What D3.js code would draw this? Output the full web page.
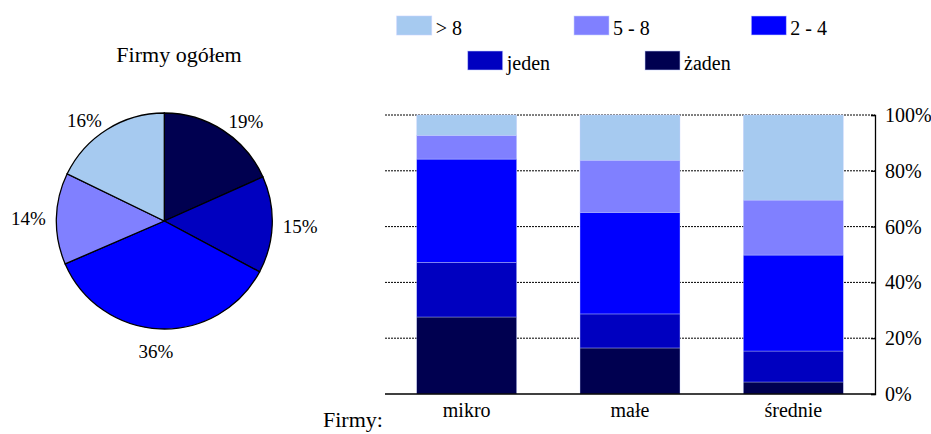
<!DOCTYPE html>
<html><head><meta charset="utf-8">
<script src="https://cdn.jsdelivr.net/npm/d3@7"></script>
<style>body{margin:0;background:#fff}</style>
</head><body>
<svg id="c" width="931" height="434" font-family="'Liberation Serif', 'DejaVu Serif', serif"></svg>
<script>
// ---- data ----
const seriesNames = ["> 8", "5 - 8", "2 - 4", "jeden", "żaden"];
const seriesColors = ["#A6CAF0", "#8080FF", "#0000FF", "#0000C0", "#000050"];
const categories = ["mikro", "małe", "średnie"];
const gt8 = [7.3, 16.2, 30.5];
const s5to8 = [8.5, 18.7, 19.7];
const s2to4 = [37.0, 36.4, 34.4];
const jeden = [19.6, 12.2, 11.1];
const zaden = [27.6, 16.5, 4.3];
const yTicks = [0, 20, 40, 60, 80, 100];
const pieNames = ["żaden", "jeden", "2 - 4", "5 - 8", "> 8"];
const pieValues = [18.3, 14.5, 35.7, 13.7, 17.8];
const pieLabels = ["19%", "15%", "36%", "14%", "16%"];
const pieTitle = "Firmy ogółem";
const xTitle = "Firmy:";

const FONT = "'Liberation Serif', 'DejaVu Serif', serif";
const svg = d3.select("#c");
const color = d3.scaleOrdinal().domain(seriesNames).range(seriesColors);

// ---- pie ----
const cx = 164.3, cy = 221, R = 108;
svg.append("text").attr("x", 179).attr("y", 62).attr("text-anchor", "middle")
  .attr("font-family", FONT).attr("font-size", 22).text(pieTitle);
const pieData = d3.pie().sort(null).value(d => d.v)(pieNames.map((n, i) => ({n, v: pieValues[i], l: pieLabels[i]})));
const arc = d3.arc().innerRadius(0).outerRadius(R);
const pg = svg.append("g").attr("transform", `translate(${cx},${cy})`);
pg.selectAll("path").data(pieData).join("path")
  .attr("d", arc).attr("fill", d => color(d.data.n))
  .attr("stroke", "#000").attr("stroke-width", 1.3);
const labR = R + 11, halfW = 17, boxH = 11;
pg.selectAll("text").data(pieData).join("text")
  .attr("font-family", FONT).attr("font-size", 19).attr("text-anchor", "middle")
  .attr("x", d => { const a = (d.startAngle + d.endAngle) / 2; return Math.sin(a) * labR + halfW * Math.tanh(5 * Math.sin(a)); })
  .attr("y", d => { const a = (d.startAngle + d.endAngle) / 2; return -Math.cos(a) * labR + Math.max(0, -Math.cos(a)) * boxH + 7; })
  .text(d => d.data.l);

// ---- bar chart ----
const x0 = 385, x1 = 875, yTop = 115, yBot = 394;
const x = d3.scaleBand().domain(categories).range([x0, x1]).paddingInner(0.388).paddingOuter(0.194);
const y = d3.scaleLinear().domain([0, 100]).range([yBot, yTop]);

// gridlines
svg.append("g").selectAll("line").data(yTicks.filter(t => t > 0)).join("line")
  .attr("x1", x0).attr("x2", x1).attr("y1", d => y(d)).attr("y2", d => y(d))
  .attr("stroke", "#000").attr("stroke-width", 1).attr("stroke-dasharray", "2,1");

const rows = categories.map((c, i) => ({cat: c, "> 8": gt8[i], "5 - 8": s5to8[i], "2 - 4": s2to4[i], "jeden": jeden[i], "żaden": zaden[i]}));
const stackOrder = ["żaden", "jeden", "2 - 4", "5 - 8", "> 8"];
const stacked = d3.stack().keys(stackOrder)(rows);
svg.append("g").selectAll("g").data(stacked).join("g")
  .attr("fill", d => color(d.key))
  .selectAll("rect").data(d => d).join("rect")
  .attr("x", d => x(d.data.cat)).attr("width", x.bandwidth())
  .attr("y", d => y(d[1])).attr("height", d => y(d[0]) - y(d[1]))
  .attr("stroke", "rgba(200,210,255,0.6)").attr("stroke-width", 0.6);

// right axis
const ax = svg.append("g").attr("transform", `translate(${x1},0)`)
  .call(d3.axisRight(y).tickValues(yTicks).tickSize(-4).tickPadding(10).tickFormat(d => d + "%"));
ax.attr("font-family", FONT).attr("font-size", 20);
ax.select(".domain").attr("stroke", "#000").attr("stroke-width", 1.3);
ax.selectAll(".tick line").attr("stroke", "#000").attr("stroke-width", 1.2);
ax.selectAll("text").attr("fill", "#000");

// bottom axis line
svg.append("line").attr("x1", x0).attr("x2", x1).attr("y1", yBot).attr("y2", yBot)
  .attr("stroke", "#000").attr("stroke-width", 1.5);
svg.append("g").selectAll("text").data(categories).join("text")
  .attr("x", d => x(d) + x.bandwidth() / 2).attr("y", 417).attr("text-anchor", "middle")
  .attr("font-family", FONT).attr("font-size", 20).text(d => d);
svg.append("text").attr("x", 323).attr("y", 427).attr("font-family", FONT).attr("font-size", 22).text(xTitle);

// legend
const legRow1 = seriesNames.slice(0, 3), legRow2 = seriesNames.slice(3);
const legStep = 177.3;
function legendRow(names, lx, ly) {
  const g = svg.append("g").selectAll("g").data(names).join("g")
    .attr("transform", (d, i) => `translate(${lx + i * legStep},${ly})`);
  g.append("rect").attr("width", 35).attr("height", 19).attr("y", -19)
    .attr("fill", d => color(d)).attr("stroke", "rgba(200,210,255,0.7)").attr("stroke-width", 0.8);
  g.append("text").attr("x", 39).attr("y", 0).attr("font-family", FONT).attr("font-size", 20).text(d => d);
}
legendRow(legRow1, 396.7, 35);
legendRow(legRow2, 467.7, 70);
</script>
</body></html>
